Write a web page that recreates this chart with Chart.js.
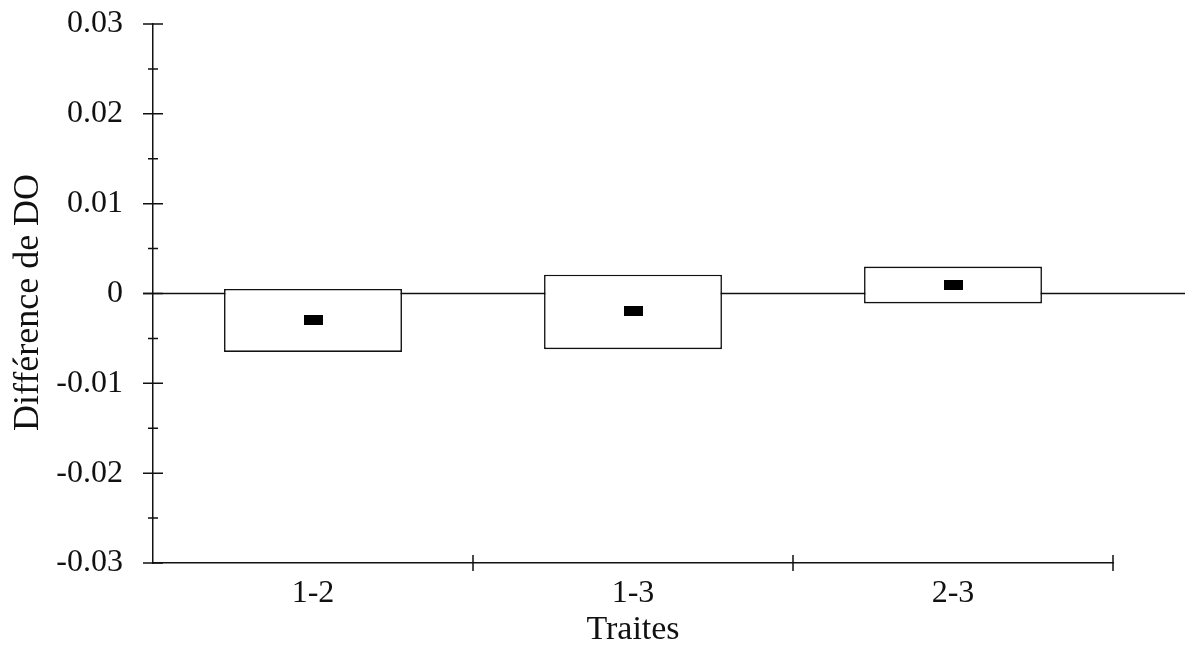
<!DOCTYPE html>
<html>
<head>
<meta charset="utf-8">
<script src="https://cdn.jsdelivr.net/npm/chart.js@4/dist/chart.umd.min.js"></script>
<style>
  html, body { margin: 0; padding: 0; background: #fff; }
  #wrap { width: 1194px; height: 647px; }
</style>
</head>
<body>
<div id="wrap"><canvas id="diffChart"></canvas></div>
<script>
const categories = ['1-2', '1-3', '2-3'];
const lowValues = [-0.0065, -0.0062, -0.0011];
const highValues = [0.0005, 0.0021, 0.0030];
const meanValues = [-0.0030, -0.0020, 0.0010];
const yTicks = [-0.03, -0.02, -0.01, 0, 0.01, 0.02, 0.03];
const yMinorTicks = [-0.025, -0.015, -0.005, 0.005, 0.015, 0.025];

const FONT = "'Liberation Serif', 'DejaVu Serif', serif";

// small black bar used as the mean marker
const marker = document.createElement('canvas');
marker.width = 19;
marker.height = 10;
const mctx = marker.getContext('2d');
mctx.fillStyle = '#000';
mctx.fillRect(0, 0, 19, 10);

const axisTicks = {
  id: 'axisTicks',
  beforeDatasetsDraw(chart) {
    const { ctx, chartArea, scales } = chart;
    const y0 = scales.y.getPixelForValue(0);
    ctx.save();
    ctx.strokeStyle = '#111';
    ctx.lineWidth = 1.5;
    ctx.beginPath();
    ctx.moveTo(chartArea.left - 10, y0);
    ctx.lineTo(chartArea.right + 72, y0);
    ctx.stroke();
    ctx.restore();
  },
  afterDraw(chart) {
    const { ctx, chartArea, scales } = chart;
    const left = chartArea.left;
    const bottom = chartArea.bottom;
    ctx.save();
    ctx.strokeStyle = '#111';
    ctx.lineWidth = 1.5;
    ctx.beginPath();
    yTicks.forEach(v => {
      const y = scales.y.getPixelForValue(v);
      ctx.moveTo(left - 10, y);
      ctx.lineTo(left + 10, y);
    });
    yMinorTicks.forEach(v => {
      const y = scales.y.getPixelForValue(v);
      ctx.moveTo(left - 5, y);
      ctx.lineTo(left + 5, y);
    });
    const step = (chartArea.right - chartArea.left) / categories.length;
    for (let i = 1; i <= categories.length; i++) {
      const x = scales.x.getPixelForValue(i - 1) + step / 2;
      ctx.moveTo(x, bottom - 8);
      ctx.lineTo(x, bottom + 8);
    }
    ctx.stroke();
    ctx.restore();
  }
};

new Chart(document.getElementById('diffChart'), {
  type: 'bar',
  data: {
    labels: categories,
    datasets: [
      {
        type: 'line',
        label: 'Moyenne',
        data: meanValues,
        showLine: false,
        pointStyle: marker,
        pointRadius: 6,
        order: 0
      },
      {
        label: 'Intervalle',
        data: categories.map((c, i) => [lowValues[i], highValues[i]]),
        backgroundColor: '#fff',
        borderColor: '#111',
        borderWidth: 1.6,
        borderSkipped: false,
        barPercentage: 0.556,
        categoryPercentage: 1,
        order: 1
      }
    ]
  },
  options: {
    responsive: true,
    maintainAspectRatio: false,
    animation: false,
    layout: { padding: { left: 0, right: 81, top: 24, bottom: 0 } },
    plugins: {
      legend: { display: false },
      tooltip: { enabled: false }
    },
    scales: {
      x: {
        offset: true,
        grid: { display: false, drawTicks: false },
        border: { display: true, color: '#111', width: 1.5 },
        ticks: { color: '#111', font: { family: FONT, size: 32 }, padding: 11 },
        title: {
          display: true,
          text: 'Traites',
          color: '#111',
          font: { family: FONT, size: 34 },
          padding: { top: 0, bottom: -3 }
        },
        afterFit(scale) { scale.height = 84; }
      },
      y: {
        min: -0.03,
        max: 0.03,
        grid: { display: false, drawTicks: false },
        border: { display: true, color: '#111', width: 1.5 },
        ticks: {
          stepSize: 0.01,
          color: '#111',
          font: { family: FONT, size: 32 },
          padding: 30,
          callback: v => String(+v.toFixed(2))
        },
        title: {
          display: true,
          text: 'Différence de DO  ',
          color: '#111',
          font: { family: FONT, size: 36 },
          padding: { top: 7, bottom: 0 }
        },
        afterFit(scale) {
          scale.width = 153;
          scale.paddingTop = 0;
          scale.paddingBottom = 0;
        }
      }
    }
  },
  plugins: [axisTicks]
});
</script>
</body>
</html>
